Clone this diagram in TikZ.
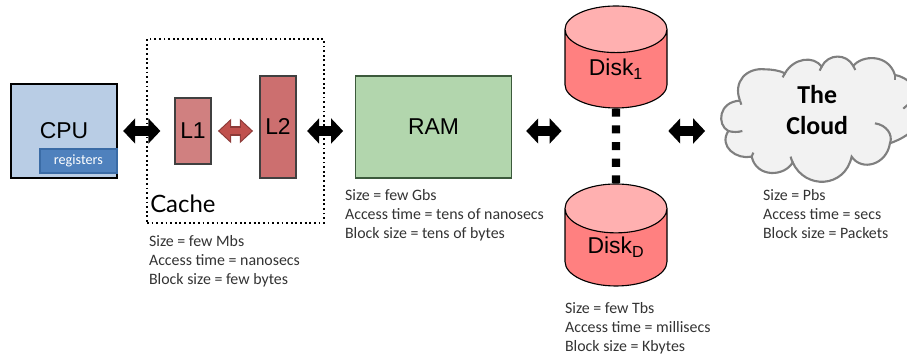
\documentclass[tikz,border=0pt]{standalone}
\usepackage{fontspec}
\setmainfont{Liberation Sans}
\newfontfamily\infofont{Carlito}
\newfontfamily\cachefont{Lato}
\usetikzlibrary{arrows.meta,shapes.geometric}
\definecolor{cpublue}{HTML}{B9CDE5}
\definecolor{regblue}{HTML}{4F81BD}
\definecolor{regedge}{HTML}{3A6BA5}
\definecolor{lonered}{HTML}{D08080}
\definecolor{ltwored}{HTML}{CC6F6F}
\definecolor{ramgreen}{HTML}{B2D6AD}
\definecolor{ramedge}{HTML}{3C5A3C}
\definecolor{diskbody}{HTML}{FF8080}
\definecolor{disktop}{HTML}{FFB0B0}
\definecolor{linkred}{HTML}{C0504D}
\definecolor{linkedge}{HTML}{8C3A38}
\definecolor{cloudfill}{HTML}{F2F2F2}
\definecolor{cloudedge}{HTML}{7F7F7F}
\tikzset{
    unit/.style={draw,line width=.8pt,font=\fontsize{16.3}{20}\selectfont,inner sep=0pt},
    info/.style={anchor=north west,align=left,inner sep=0pt,font=\infofont\fontsize{11.3}{13.6}\selectfont,text=black!80},
    disk/.style={draw,line width=.8pt,cylinder,shape border rotate=90,aspect=.86,minimum width=2.55cm,minimum height=2.55cm,anchor=shape center,
        cylinder uses custom fill,cylinder body fill=diskbody,cylinder end fill=disktop,inner sep=0pt,font=\fontsize{16.3}{20}\selectfont},
    biglink/.style={line width=6.6pt,{Triangle[width=17.5pt,length=8.5pt]}-{Triangle[width=17.5pt,length=8.5pt]}},
    cloudline/.style={cloudedge,line width=1.5pt},
}
\begin{document}
\begin{tikzpicture}
    \useasboundingbox (0,0) rectangle (22.675,8.9);

    \node[draw,dotted,line width=1.3pt,minimum width=4.425cm,minimum height=4.6cm] (cache) at (5.8875,5.625) {};
    \node[font=\cachefont\fontsize{17}{20}\selectfont,anchor=west,inner sep=0pt] (cachelabel) at (3.75,3.8) {Cache};

    \node[unit,fill=cpublue,minimum width=2.65cm,minimum height=2.35cm] (cpu) at (1.6,5.625) {CPU};
    \node[draw=regedge,line width=1.5pt,fill=regblue,text=white,inner sep=0pt,minimum width=1.92cm,minimum height=.6cm,font=\infofont\fontsize{10.1}{11}\selectfont] (reg) at (1.96,4.87) {registers};
    \node[unit,draw=black!75,fill=lonered,minimum width=.9cm,minimum height=1.65cm] (lone) at (4.825,5.625) {L1};
    \node[unit,draw=black!75,fill=ltwored,minimum width=.9cm,minimum height=2.55cm] (ltwo) at (6.95,5.725) {L2};
    \node[unit,draw=ramedge,fill=ramgreen,minimum width=3.9cm,minimum height=2.55cm] (ram) at (10.84,5.725) {RAM};

    \node[disk] (diskone) at (15.4,7.475) {\raisebox{-1.5pt}{Disk\textsubscript{1}}};
    \node[disk] (diskd) at (15.4,3.025) {Disk\textsubscript{D}};
    \draw[line width=5.7pt,dash pattern=on 5.7pt off 6.2pt] (diskone.south) -- (diskd.north);

    % cloud outline, 3 units to a pixel of the reference
    \begin{scope}[shift={(17.75,7.65)},x=.008333cm,y=-.008333cm]
        \draw[cloudline,fill=cloudfill]
            (90,152) .. controls (68,95) and (110,52) .. (165,58)
            .. controls (185,58) and (210,62) .. (225,70)
            .. controls (250,25) and (310,15) .. (335,50)
            .. controls (355,10) and (410,10) .. (430,48)
            .. controls (455,15) and (535,10) .. (555,75)
            .. controls (590,80) and (640,120) .. (625,170)
            .. controls (650,210) and (610,255) .. (540,280)
            .. controls (530,345) and (455,365) .. (425,320)
            .. controls (405,415) and (285,420) .. (248,337)
            .. controls (225,380) and (140,385) .. (125,320)
            .. controls (80,330) and (25,290) .. (55,243)
            .. controls (20,225) and (25,155) .. (90,152);
        \draw[cloudline] (55,243) .. controls (68,247) and (85,247) .. (97,243);
        \draw[cloudline] (125,320) .. controls (126,315) and (128,312) .. (130,308);
        \draw[cloudline] (248,337) .. controls (245,330) and (243,326) .. (242,320);
        \draw[cloudline] (495,220) .. controls (530,225) and (550,255) .. (540,280);
        \draw[cloudline] (580,176) .. controls (585,172) and (588,168) .. (594,164);
        \draw[cloudline] (555,75) .. controls (556,80) and (556,85) .. (555,90);
        \draw[cloudline] (430,48) .. controls (432,52) and (434,56) .. (436,60);
        \draw[cloudline] (335,50) .. controls (333,55) and (331,58) .. (329,62);
        \draw[cloudline] (225,70) .. controls (222,75) and (220,78) .. (218,82);
        \draw[cloudline] (90,152) .. controls (92,156) and (93,160) .. (94,164);
    \end{scope}
    \node[align=center,inner sep=0pt,font=\infofont\bfseries\fontsize{18.4}{22}\selectfont] (cloud) at (20.43,6.15) {The\\Cloud};
    \coordinate (cloudleft) at (18.05,5.625);

    \draw[biglink,shorten <=4pt,shorten >=10pt] (cpu) -- (lone);
    \draw[biglink,shorten <=7.5pt,shorten >=8.5pt] (ltwo.east |- lone) -- (ram.west |- lone);
    \draw[biglink,shorten <=10pt,shorten >=2pt] (ram.east |- lone) -- (diskone.west |- lone);
    \draw[biglink,shorten <=.5pt,shorten >=12pt] (diskone.east |- lone) -- (cloudleft);

    \draw[linkedge,line width=6.8pt,{Triangle[width=17pt,length=9.5pt]}-{Triangle[width=17pt,length=9.5pt]},shorten <=4.5pt,shorten >=4.5pt] (lone) -- (ltwo.west |- lone);
    \draw[linkred,line width=4.6pt,{Triangle[width=13.5pt,length=7.5pt]}-{Triangle[width=13.5pt,length=7.5pt]},shorten <=5.7pt,shorten >=5.7pt] (lone) -- (ltwo.west |- lone);

    \node[info] (cacheinfo) at (3.72,3.02) {Size = few Mbs\\Access time = nanosecs\\Block size = few bytes};
    \node[info] (raminfo) at (8.62,4.17) {Size = few Gbs\\Access time = tens of nanosecs\\Block size = tens of bytes};
    \node[info] (diskinfo) at (14.12,1.34) {Size = few Tbs\\Access time = millisecs\\Block size = Kbytes};
    \node[info] (cloudinfo) at (19.07,4.17) {Size = Pbs\\Access time = secs\\Block size = Packets};
\end{tikzpicture}
\end{document}
